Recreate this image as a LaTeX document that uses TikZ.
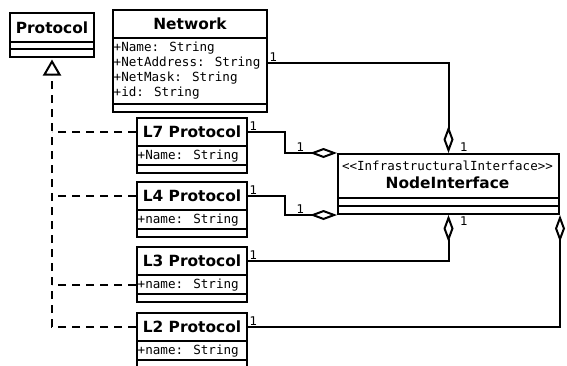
\documentclass[tikz,border=0pt]{standalone}
\usepackage{fontspec}
\setmainfont{DejaVu Sans}
\newfontfamily\monof{DejaVu Sans Mono}
\usetikzlibrary{arrows.meta,calc}
\begin{document}
\begin{tikzpicture}[x=1pt,y=-1pt,
  comp/.style={draw, line width=2pt, rectangle, inner sep=0pt, anchor=north west, fill=white},
  ttl/.style={font=\bfseries\fontsize{15.4}{18}\selectfont, inner sep=0pt},
  attr/.style={font=\monof\fontsize{12.6}{15}\selectfont, anchor=base west, inner sep=0pt},
  stereo/.style={font=\monof\fontsize{12.5}{15}\selectfont, inner sep=0pt},
  mult/.style={font=\fontsize{12}{14}\selectfont, inner sep=1.5pt},
  aggr/.style={line width=2pt, -{Diamond[open, length=27pt, width=10pt]}},
  real/.style={line width=2pt, dash pattern=on 8pt off 6pt}]
\useasboundingbox (0,0) rectangle (567,365);
% Protocol
\node[comp, minimum width=84pt, minimum height=29pt] (protoT) at (9,12) {};
\node[comp, minimum width=84pt, minimum height=7pt] (protoA) at (9,41) {};
\node[comp, minimum width=84pt, minimum height=8pt] (protoB) at (9,48) {};
\node[ttl] (protoN) at (protoT.center) {Protocol};
% Network
\node[comp, minimum width=154pt, minimum height=28pt] (netT) at (112,9) {};
\node[comp, minimum width=154pt, minimum height=66pt] (netA) at (112,37) {};
\node[comp, minimum width=154pt, minimum height=8pt] (netO) at (112,103) {};
\node[ttl] (netN) at (netT.center) {Network};
\node[attr] (netA1) at (113.5,51.2) {+Name: String};
\node[attr] (netA2) at (113.5,66.2) {+NetAddress: String};
\node[attr] (netA3) at (113.5,81.2) {+NetMask: String};
\node[attr] (netA4) at (113.5,96.2) {+id: String};
% NodeInterface
\node[comp, minimum width=221pt, minimum height=44pt] (ni) at (337,153) {};
\node[comp, minimum width=221pt, minimum height=8pt] (niA) at (337,197) {};
\node[comp, minimum width=221pt, minimum height=8pt] (niO) at (337,205) {};
\node[stereo] (niS) at (447.5,166) {<{}<InfrastructuralInterface>{}>};
\node[ttl] (niN) at (447.5,182.5) {NodeInterface};
% L boxes
\node[comp, minimum width=110pt, minimum height=28pt] (l7T) at (136,117) {};
\node[comp, minimum width=110pt, minimum height=19pt] (l7A) at (136,145) {};
\node[comp, minimum width=110pt, minimum height=8pt] (l7O) at (136,164) {};
\node[ttl] (l7N) at (l7T.center) {L7 Protocol};
\node[attr] (l7a) at (137.5,159.5) {+Name: String};

\node[comp, minimum width=110pt, minimum height=28pt] (l4T) at (136,181) {};
\node[comp, minimum width=110pt, minimum height=19pt] (l4A) at (136,209) {};
\node[comp, minimum width=110pt, minimum height=8pt] (l4O) at (136,228) {};
\node[ttl] (l4N) at (l4T.center) {L4 Protocol};
\node[attr] (l4a) at (137.5,223) {+name: String};

\node[comp, minimum width=110pt, minimum height=28pt] (l3T) at (136,246) {};
\node[comp, minimum width=110pt, minimum height=19pt] (l3A) at (136,274) {};
\node[comp, minimum width=110pt, minimum height=8pt] (l3O) at (136,293) {};
\node[ttl] (l3N) at (l3T.center) {L3 Protocol};
\node[attr] (l3a) at (137.5,288) {+name: String};

\node[comp, minimum width=110pt, minimum height=28pt] (l2T) at (136,312) {};
\node[comp, minimum width=110pt, minimum height=19pt] (l2A) at (136,340) {};
\node[comp, minimum width=110pt, minimum height=8pt] (l2O) at (136,359) {};
\node[ttl] (l2N) at (l2T.center) {L2 Protocol};
\node[attr] (l2a) at (137.5,354) {+name: String};
% realization
\draw[real, -{Triangle[open, length=16pt, width=18pt]}, shorten >=1.5pt] (l2T.west) -| (protoB.south);
\draw[real] (l7T.west) -- (l7T.west -| protoB.south);
\draw[real] (l4T.west) -- (l4T.west -| protoB.south);
\draw[real] ([yshift=-0.5pt]l3A.west) -- ([yshift=-0.5pt]l3A.west -| protoB.south);
% aggregations
\draw[aggr] ([yshift=8pt]netA.east) -| (ni.north);
\draw[aggr] (l7T.east) -- ++(37,0) |- (ni.north west);
\draw[aggr] (l4T.east) -- ++(37,0) |- (niO.south west);
\draw[aggr] (l3T.east) -| (niO.south);
\draw[aggr] (l2T.east) -| (niO.south east);
% multiplicities
\node[mult, anchor=south west] (m1) at ([yshift=8pt]netA.east) {1};
\node[mult, anchor=south west] (m2) at ([xshift=10pt]ni.north) {1};
\node[mult, anchor=south west] (m3) at (l7T.east) {1};
\node[mult, anchor=south east] (m4) at ([xshift=-31pt]ni.north west) {1};
\node[mult, anchor=south west] (m5) at (l4T.east) {1};
\node[mult, anchor=south east] (m6) at ([xshift=-31pt]niO.south west) {1};
\node[mult, anchor=north west] (m7) at ([xshift=10pt]niO.south) {1};
\node[mult, anchor=south west] (m8) at (l3T.east) {1};
\node[mult, anchor=south west] (m9) at (l2T.east) {1};
\end{tikzpicture}
\end{document}
